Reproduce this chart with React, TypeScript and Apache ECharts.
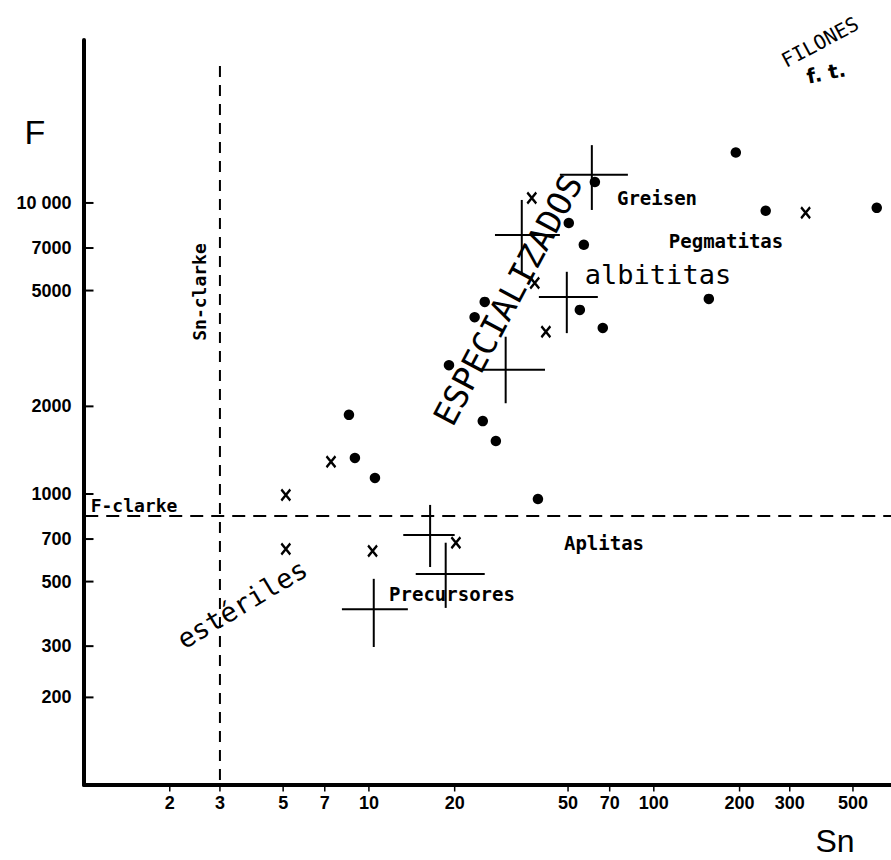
import React, { useEffect, useRef } from "react";
import * as echarts from "echarts";

// Filled dots (●): Sn (ppm) and F (ppm)
const dotSn = [62.1, 194, 247, 606, 50.3, 56.8, 156, 55.0, 66.2, 25.5, 23.5, 19.1, 8.51, 25.1, 27.9, 8.93, 10.5, 39.2];
const dotF = [11800, 14900, 9400, 9620, 8530, 7180, 4680, 4290, 3720, 4570, 4050, 2770, 1870, 1780, 1520, 1330, 1135, 961];

// Crosses (x)
const crossSn = [37.3, 38.2, 41.8, 341, 5.11, 7.36, 5.11, 10.3, 20.2];
const crossF = [10400, 5310, 3610, 9250, 992, 1290, 647, 637, 680];

// Range crosses (+): centre and extent in Sn and F
const rangeSn = [60.6, 34.4, 49.5, 30.2, 16.4, 18.6, 10.4];
const rangeSnLow = [46.8, 27.7, 39.5, 25.1, 13.2, 14.6, 8.04];
const rangeSnHigh = [81.1, 46.8, 63.6, 41.5, 20.0, 25.5, 13.7];
const rangeF = [12500, 7760, 4750, 2670, 723, 531, 402];
const rangeFLow = [9460, 5660, 3570, 2050, 561, 406, 298];
const rangeFHigh = [15800, 10240, 5800, 3470, 917, 680, 511];

// Clarke values
const snClarke = 3;
const fClarke = 840;

// Axis extents and tick labels
const xMin = 1;
const xMax = 680;
const yMin = 100;
const yMax = 36300;
const xTicks = [2, 3, 5, 7, 10, 20, 50, 70, 100, 200, 300, 500];
const xTickLabels = ["2", "3", "5", "7", "10", "20", "50", "70", "100", "200", "300", "500"];
const yTicks = [200, 300, 500, 700, 1000, 2000, 5000, 7000, 10000];
const yTickLabels = ["200", "300", "500", "700", "1000", "2000", "5000", "7000", "10 000"];

const MONO = '"DejaVu Sans Mono"';
const SANS = '"Liberation Sans"';

function txt(text: string, x: number, y: number, font: string, rotation = 0) {
  return {
    type: "text",
    x,
    y,
    rotation,
    silent: true,
    z: 10,
    style: {
      text,
      font,
      fill: "#000",
      align: "center",
      verticalAlign: "middle",
      textAlign: "center",
      textVerticalAlign: "middle",
    },
  };
}

export default function App() {
  const ref = useRef<HTMLDivElement>(null);

  useEffect(() => {
    const chart = echarts.init(ref.current!, null, { renderer: "svg" });

    const axisCommon = {
      axisLine: { show: true, lineStyle: { color: "#000", width: 4 } },
      axisTick: { show: false },
      axisLabel: { show: false },
      splitLine: { show: false },
      minorTick: { show: false },
      minorSplitLine: { show: false },
    };

    const tickFont = {
      fontFamily: SANS,
      fontWeight: "bold",
      fontSize: 18,
      color: "#000",
      opacity: 1,
    };

    const option: any = {
      animation: false,
      backgroundColor: "#fff",
      grid: { left: 84, right: 0, top: 40, bottom: 75 },
      xAxis: { type: "log", logBase: 10, min: xMin, max: xMax, ...axisCommon },
      yAxis: { type: "log", logBase: 10, min: yMin, max: yMax, ...axisCommon },
      series: [
        {
          name: "Sn-clarke",
          type: "line",
          data: [[snClarke, 104], [snClarke, 31500]],
          symbol: "none",
          silent: true,
          lineStyle: { color: "#000", width: 2, type: [11, 8], opacity: 1 },
        },
        {
          name: "F-clarke",
          type: "line",
          data: [[1.01, fClarke], [xMax, fClarke]],
          symbol: "none",
          silent: true,
          lineStyle: { color: "#000", width: 2, type: [13, 8], opacity: 1 },
        },
        {
          name: "rangos",
          type: "custom",
          silent: true,
          clip: false,
          encode: { x: [0, 2, 3], y: [1, 4, 5] },
          data: rangeSn.map((s, i) => [s, rangeF[i], rangeSnLow[i], rangeSnHigh[i], rangeFLow[i], rangeFHigh[i]]),
          renderItem: (_params: any, api: any) => {
            const l = api.coord([api.value(2), api.value(1)]);
            const r = api.coord([api.value(3), api.value(1)]);
            const t = api.coord([api.value(0), api.value(5)]);
            const b = api.coord([api.value(0), api.value(4)]);
            const st = { stroke: "#000", lineWidth: 2 };
            return {
              type: "group",
              children: [
                { type: "line", shape: { x1: l[0], y1: l[1], x2: r[0], y2: r[1] }, style: st },
                { type: "line", shape: { x1: t[0], y1: t[1], x2: b[0], y2: b[1] }, style: st },
              ],
            };
          },
        },
        {
          name: "puntos",
          type: "scatter",
          silent: true,
          clip: false,
          symbol: "circle",
          symbolSize: 10.5,
          itemStyle: { color: "#000", opacity: 1 },
          data: dotSn.map((s, i) => [s, dotF[i]]),
        },
        {
          name: "cruces",
          type: "scatter",
          silent: true,
          clip: false,
          symbol: "path://M0,0 L10,12 M10,0 L0,12",
          symbolSize: [9, 11],
          itemStyle: { color: "transparent", borderColor: "#000", borderWidth: 2.4, opacity: 1 },
          data: crossSn.map((s, i) => [s, crossF[i]]),
        },
        {
          name: "xTickMarks",
          type: "scatter",
          silent: true,
          clip: false,
          symbol: "rect",
          symbolSize: [1.5, 5],
          symbolOffset: [0, 4],
          itemStyle: { color: "#000", opacity: 1 },
          data: xTicks.map((v) => [v, yMin]),
        },
        {
          name: "xTickLabels",
          type: "scatter",
          silent: true,
          clip: false,
          symbolSize: 1,
          itemStyle: { color: "rgba(0,0,0,0)", opacity: 1 },
          label: {
            show: true,
            position: "bottom",
            distance: 8,
            formatter: (p: any) => xTickLabels[p.dataIndex],
            ...tickFont,
          },
          data: xTicks.map((v) => [v, yMin]),
        },
        {
          name: "yTickMarks",
          type: "scatter",
          silent: true,
          clip: false,
          symbol: "rect",
          symbolSize: [9, 2],
          symbolOffset: [5, 0],
          itemStyle: { color: "#000", opacity: 1 },
          data: yTicks.map((v) => [xMin, v]),
        },
        {
          name: "yTickLabels",
          type: "scatter",
          silent: true,
          clip: false,
          symbolSize: 1,
          itemStyle: { color: "rgba(0,0,0,0)", opacity: 1 },
          label: {
            show: true,
            position: "left",
            distance: 12,
            formatter: (p: any) => yTickLabels[p.dataIndex],
            ...tickFont,
          },
          data: yTicks.map((v) => [xMin, v]),
        },
      ],
      graphic: [
        txt("F", 35, 132, `normal 34px ${SANS}`),
        txt("Sn", 835, 841, `normal 32px ${SANS}`),
        txt("Greisen", 657, 198, `bold 19px ${MONO}`),
        txt("Pegmatitas", 726, 241, `bold 19px ${MONO}`),
        txt("albititas", 658, 274, `normal 27px ${MONO}`),
        txt("ESPECIALIZADOS", 508, 300, `normal 33px ${MONO}`, 1.08),
        txt("estériles", 242, 604, `normal 27px ${MONO}`, 0.54),
        txt("Precursores", 452, 594, `bold 19px ${MONO}`),
        txt("Aplitas", 604, 543, `bold 19px ${MONO}`),
        txt("F-clarke", 134, 505, `bold 18px ${MONO}`),
        txt("Sn-clarke", 199, 292, `bold 18px ${MONO}`, Math.PI / 2),
        txt("FILONES", 820, 42, `normal 20px ${MONO}`, 0.49),
        txt("f. t.", 826, 73, `bold 20px "DejaVu Sans"`, 0.2),
      ],
    };

    chart.setOption(option);
    return () => chart.dispose();
  }, []);

  return (
    <div
      ref={ref}
      style={{ position: "fixed", left: 0, top: 0, width: 891, height: 860, background: "#fff" }}
    />
  );
}
